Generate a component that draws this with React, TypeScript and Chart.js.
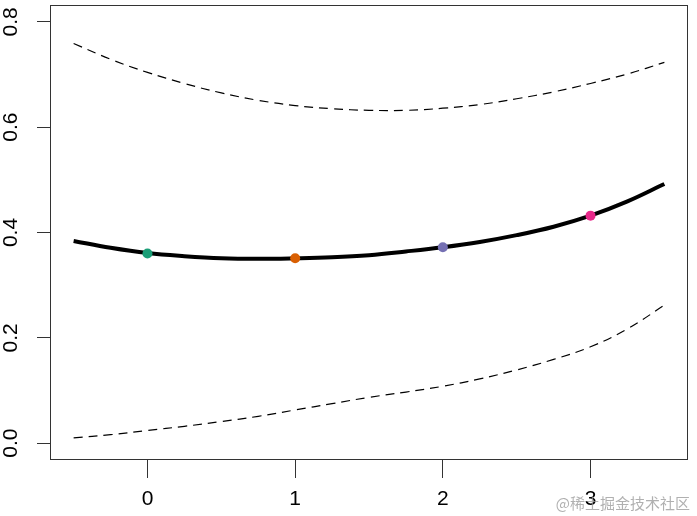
import React, { useEffect, useRef } from "react";
import { Chart, registerables } from "chart.js";

Chart.register(...registerables);

// x positions of the fitted curves
const xGrid = [-0.5, -0.25, 0, 0.25, 0.5, 0.75, 1, 1.25, 1.5, 1.75, 2, 2.25, 2.5, 2.75, 3, 3.25, 3.5];
// fitted probability (thick black line)
const fitValues = [0.384, 0.371, 0.361, 0.355, 0.351, 0.350, 0.351, 0.353, 0.357, 0.364, 0.372, 0.382, 0.395, 0.411, 0.432, 0.459, 0.492];
// upper confidence band (dashed)
const upperValues = [0.759, 0.729, 0.704, 0.683, 0.665, 0.651, 0.641, 0.635, 0.632, 0.632, 0.636, 0.643, 0.654, 0.667, 0.683, 0.701, 0.723];
// lower confidence band (dashed)
const lowerValues = [0.010, 0.016, 0.024, 0.032, 0.041, 0.051, 0.063, 0.075, 0.087, 0.097, 0.108, 0.122, 0.139, 0.159, 0.183, 0.217, 0.262];
// observed group points
const groupX = [0, 1, 2, 3];
const groupY = [0.360, 0.351, 0.372, 0.432];
const groupColors = ["#1B9E77", "#D95F02", "#7570B3", "#E7298A"];
// axis ticks
const xTicks = [0, 1, 2, 3];
const yTicks = [0, 0.2, 0.4, 0.6, 0.8];
const yTickLabels = ["0.0", "0.2", "0.4", "0.6", "0.8"];
const watermark = "@稀土掘金技术社区";

const FONT = '"Liberation Sans", Arial, Helvetica, sans-serif';

export default function App() {
  const ref = useRef<HTMLCanvasElement | null>(null);

  useEffect(() => {
    const canvas = ref.current;
    if (!canvas) return;

    const boxPlugin = {
      id: "rbox",
      afterDraw(chart: any) {
        const { ctx, chartArea } = chart;
        ctx.save();
        ctx.strokeStyle = "#333";
        ctx.lineWidth = 1;
        ctx.strokeRect(
          Math.round(chartArea.left) + 0.5,
          Math.round(chartArea.top) + 0.5,
          Math.round(chartArea.right - chartArea.left) - 1,
          Math.round(chartArea.bottom - chartArea.top) - 1
        );
        // rotated y labels
        const ys = chart.scales.y;
        ctx.fillStyle = "#000";
        ctx.font = `21px ${FONT}`;
        ctx.textAlign = "center";
        ctx.textBaseline = "middle";
        yTicks.forEach((v, i) => {
          const py = ys.getPixelForValue(v);
          ctx.save();
          ctx.translate(11, py);
          ctx.rotate(-Math.PI / 2);
          ctx.fillText(yTickLabels[i], 0, 0);
          ctx.restore();
        });
        // watermark
        ctx.font = `15px "Noto Sans CJK SC", sans-serif`;
        ctx.fillStyle = "rgba(150,150,150,0.75)";
        ctx.textAlign = "right";
        ctx.textBaseline = "middle";
        ctx.fillText(watermark, 690, 503);
        ctx.restore();
      },
    };

    const chart = new Chart(canvas, {
      type: "scatter",
      data: {
        datasets: [
          {
            label: "groups",
            data: groupX.map((x, i) => ({ x, y: groupY[i] })),
            pointBackgroundColor: groupColors,
            pointBorderColor: groupColors,
            pointRadius: 5,
            pointBorderWidth: 0,
            showLine: false,
          },
          {
            label: "fit",
            data: xGrid.map((x, i) => ({ x, y: fitValues[i] })),
            showLine: true,
            borderColor: "#000",
            borderWidth: 4,
            pointRadius: 0,
            tension: 0.4,
            borderCapStyle: "butt",
          },
          {
            label: "upper",
            data: xGrid.map((x, i) => ({ x, y: upperValues[i] })),
            showLine: true,
            borderColor: "#000",
            borderWidth: 1.2,
            borderDash: [9, 6],
            pointRadius: 0,
            tension: 0.4,
          },
          {
            label: "lower",
            data: xGrid.map((x, i) => ({ x, y: lowerValues[i] })),
            showLine: true,
            borderColor: "#000",
            borderWidth: 1.2,
            borderDash: [9, 6],
            pointRadius: 0,
            tension: 0.4,
          },
        ],
      },
      options: {
        animation: false,
        responsive: false,
        devicePixelRatio: 1,
        layout: { padding: { top: 4, right: 9, left: 0, bottom: 0 } },
        plugins: {
          legend: { display: false },
          tooltip: { enabled: false },
        },
        events: [],
        scales: {
          x: {
            type: "linear",
            min: -0.66,
            max: 3.66,
            afterBuildTicks: (scale: any) => {
              scale.ticks = xTicks.map((v) => ({ value: v }));
            },
            afterFit: (scale: any) => {
              scale.height = 56;
            },
            border: { display: false },
            grid: {
              display: true,
              drawOnChartArea: false,
              drawTicks: true,
              tickLength: 18,
              color: "#333",
              lineWidth: 1,
            },
            ticks: {
              color: "#000",
              font: { size: 21, family: FONT },
              padding: 9,
              maxRotation: 0,
              minRotation: 0,
              autoSkip: false,
              callback: (v: any) => String(v),
            },
          },
          y: {
            type: "linear",
            min: -0.032,
            max: 0.832,
            afterBuildTicks: (scale: any) => {
              scale.ticks = yTicks.map((v) => ({ value: v }));
            },
            afterFit: (scale: any) => {
              scale.width = 50;
            },
            border: { display: false },
            grid: {
              display: true,
              drawOnChartArea: false,
              drawTicks: true,
              tickLength: 13,
              color: "#333",
              lineWidth: 1,
            },
            ticks: {
              display: false,
            },
          },
        },
      },
      plugins: [boxPlugin],
    } as any);

    return () => chart.destroy();
  }, []);

  return (
    <div style={{ position: "absolute", left: 0, top: 0, width: 697, height: 516, background: "#fff" }}>
      <canvas ref={ref} width={697} height={516} style={{ display: "block" }} />
    </div>
  );
}
